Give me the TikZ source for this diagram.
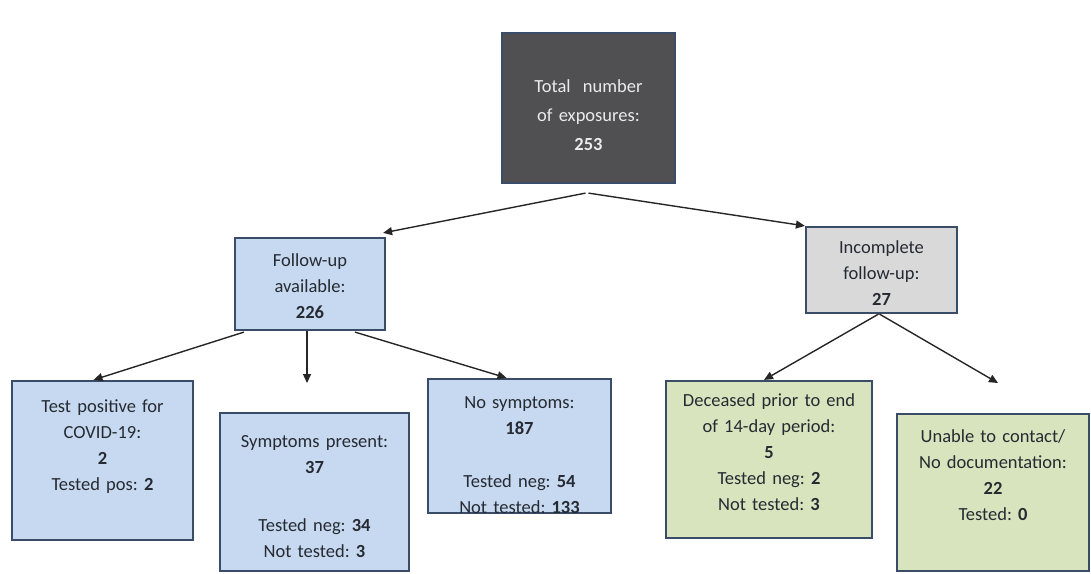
\documentclass[tikz,border=0pt]{standalone}
\usepackage{fontspec}
\setmainfont{Carlito}
\frenchspacing
\usetikzlibrary{arrows.meta,positioning,calc}
\definecolor{boxEdge}{RGB}{58,76,104}
\definecolor{fillDark}{RGB}{80,80,82}
\definecolor{fillBlue}{RGB}{198,217,240}
\definecolor{fillGrey}{RGB}{217,217,217}
\definecolor{fillGreen}{RGB}{215,228,190}
\definecolor{inkText}{RGB}{38,42,50}
\definecolor{inkLight}{RGB}{235,235,235}

\begin{document}
\begin{tikzpicture}[x=1pt,y=-1pt,
    box/.style={draw=boxEdge, line width=2.2pt, rectangle, inner sep=0pt},
    boxtext/.style={inner sep=0pt, align=center, text=inkText, font=\fontsize{18.5pt}{26pt}\selectfont},
    link/.style={draw=black!85, line width=1.4pt, -{Triangle[length=9pt,width=8pt]}}]
\useasboundingbox (0,0) rectangle (1091,573);

% boxes
\node[box, fill=fillDark, minimum width=173pt, minimum height=150pt] (total) at (588.5,108) {};
\node[box, fill=fillBlue, minimum width=150pt, minimum height=92pt] (follow) at (310,284) {};
\node[box, fill=fillGrey, minimum width=151pt, minimum height=86pt] (incomplete) at (881.5,270) {};
\node[box, fill=fillBlue, minimum width=181pt, minimum height=159pt] (testpos) at (102.5,460.5) {};
\node[box, fill=fillBlue, minimum width=189pt, minimum height=158pt] (symptoms) at (314.5,492) {};
\node[box, fill=fillBlue, minimum width=183pt, minimum height=134pt] (nosym) at (519.5,446) {};
\node[box, fill=fillGreen, minimum width=206pt, minimum height=157pt] (deceased) at (769,459.5) {};
\node[box, fill=fillGreen, minimum width=192pt, minimum height=157pt] (unable) at (993,492.5) {};

% texts
\node[boxtext, text=inkLight, text width=165pt, font=\fontsize{18.5pt}{29pt}\selectfont, below=48pt of total.north] (totalT) {Total\ \ number\\of exposures:\\\textbf{253}};
\node[boxtext, text width=145pt, below=17pt of follow.north] (followT) {Follow-up\\available:\\\textbf{226}};
\node[boxtext, text width=145pt, below=15pt of incomplete.north] (incompleteT) {Incomplete\\follow-up:\\\textbf{27}};
\node[boxtext, text width=175pt, below=20pt of testpos.north] (testposT) {Test positive for\\COVID-19:\\\textbf{2}\\Tested pos: \textbf{2}};
\node[boxtext, text width=185pt, below=23pt of symptoms.north] (symptomsT) {Symptoms present:\\\textbf{37}\\[32pt]Tested neg: \textbf{34}\\Not tested: \textbf{3}};
\node[boxtext, text width=178pt, below=19pt of nosym.north] (nosymT) {No symptoms:\\\textbf{187}\\[27pt]Tested neg: \textbf{54}\\Not tested: \textbf{133}};
\node[boxtext, text width=200pt, below=14pt of deceased.north] (deceasedT) {Deceased prior to end\\of 14-day period:\\\textbf{5}\\Tested neg: \textbf{2}\\Not tested: \textbf{3}};
\node[boxtext, text width=188pt, below=17pt of unable.north] (unableT) {Unable to contact/\\No documentation:\\\textbf{22}\\Tested: \textbf{0}};

% free arrow ends
\coordinate (symtip) at (307,383);
\coordinate (unabletip) at (998,383);

% connectors
\draw[link] ($(total.south)+(-3,9)$) -- ($(follow.north east)+(-3,-4)$);
\draw[link] ($(total.south)+(0,9)$) -- (incomplete.north west);
\draw[link] ($(follow.south west)+(10,1)$) -- ($(testpos.north)+(-9,0)$);
\draw[link] ($(follow.south)+(-3,0)$) -- (symtip);
\draw[link] ($(follow.south)+(45,1)$) -- ($(nosym.north)+(-13,0)$);
\draw[link] ($(incomplete.south)+(-3,0)$) -- ($(deceased.north)+(-5,0)$);
\draw[link] ($(incomplete.south)+(-2,0)$) -- (unabletip);
\end{tikzpicture}
\end{document}
